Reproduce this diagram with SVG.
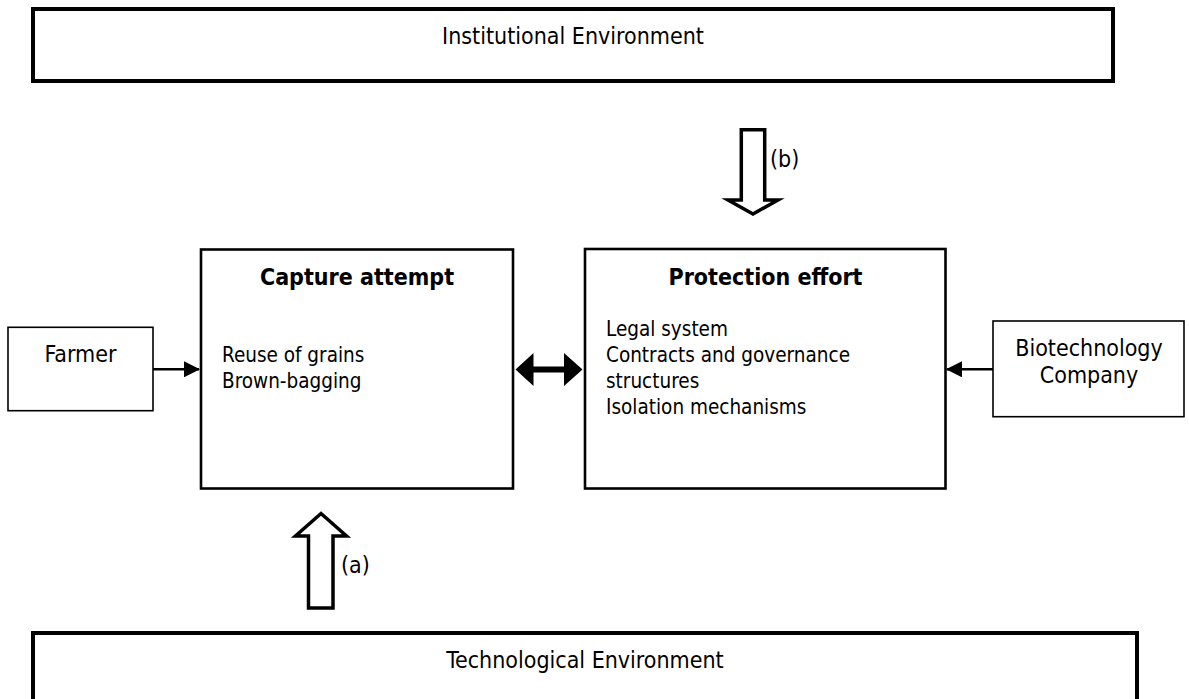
<svg xmlns="http://www.w3.org/2000/svg" width="1189" height="699" viewBox="0 0 1189 699">
  <style>
    text { font-family: "DejaVu Sans Condensed", "DejaVu Sans", sans-serif; fill: #000; }
    .env { fill: #fff; stroke: #000; stroke-width: 4; }
    .main { fill: #fff; stroke: #000; stroke-width: 2.6; }
    .actor { fill: #fff; stroke: #000; stroke-width: 1.6; }
    .big { font-size: 23px; }
    .head { font-size: 23px; font-weight: bold; }
    .body { font-size: 20.5px; }
    .block { fill: #fff; stroke: #000; stroke-width: 3.5; stroke-linejoin: miter; }
    .line { stroke: #000; fill: none; }
  </style>
  <defs>
    <marker id="tri" markerUnits="userSpaceOnUse" markerWidth="16" markerHeight="16" viewBox="0 0 16 16" refX="15" refY="8" orient="auto">
      <path d="M0,0 L16,8 L0,16 Z" fill="#000"/>
    </marker>
  </defs>
  <rect width="1189" height="699" fill="#fff"/>

  <g id="institutional">
    <rect class="env" x="33" y="9" width="1080" height="72"/>
    <text class="big" x="573" y="44" text-anchor="middle">Institutional Environment</text>
  </g>

  <g id="technological">
    <rect class="env" x="33" y="633" width="1104" height="90"/>
    <text class="big" x="585" y="668" text-anchor="middle">Technological Environment</text>
  </g>

  <g id="capture">
    <rect class="main" x="201" y="249.5" width="312" height="239"/>
    <text class="head" x="357" y="284.5" text-anchor="middle">Capture attempt</text>
    <text class="body" x="222" y="362">Reuse of grains</text>
    <text class="body" x="222" y="388">Brown-bagging</text>
  </g>

  <g id="protection">
    <rect class="main" x="585" y="249" width="360.5" height="239.5"/>
    <text class="head" x="765.5" y="285" text-anchor="middle">Protection effort</text>
    <text class="body" x="606" y="336">Legal system</text>
    <text class="body" x="606" y="362">Contracts and governance</text>
    <text class="body" x="606" y="388">structures</text>
    <text class="body" x="606" y="413.5">Isolation mechanisms</text>
  </g>

  <g id="farmer">
    <rect class="actor" x="8" y="327.3" width="145" height="83.4"/>
    <text class="big" x="80.5" y="362" text-anchor="middle">Farmer</text>
  </g>

  <g id="biotech">
    <rect class="actor" x="993" y="321" width="191" height="95.7"/>
    <text class="big" x="1089" y="355.5" text-anchor="middle">Biotechnology</text>
    <text class="big" x="1089" y="383" text-anchor="middle">Company</text>
  </g>

  <g id="connectors">
    <line class="line" x1="153" y1="369.3" x2="199" y2="369.3" stroke-width="2.6" marker-end="url(#tri)"/>
    <line class="line" x1="993" y1="369.3" x2="947" y2="369.3" stroke-width="2.6" marker-end="url(#tri)"/>
    <path d="M515.5,369.5 L533.5,353 L533.5,366.5 L564,366.5 L564,353 L582.5,369.5 L564,386 L564,372.5 L533.5,372.5 L533.5,386 Z" fill="#000"/>
    <path id="arrow-b" class="block" d="M741.3,129.7 L764.7,129.7 L764.7,200 L778,200 L753,214 L728,200 L741.3,200 Z"/>
    <text class="big" x="770" y="167">(b)</text>
    <path id="arrow-a" class="block" d="M308.5,608 L333,608 L333,536 L346.5,536 L321,513.5 L295.5,536 L308.5,536 Z"/>
    <text class="big" x="341" y="573">(a)</text>
  </g>
</svg>
